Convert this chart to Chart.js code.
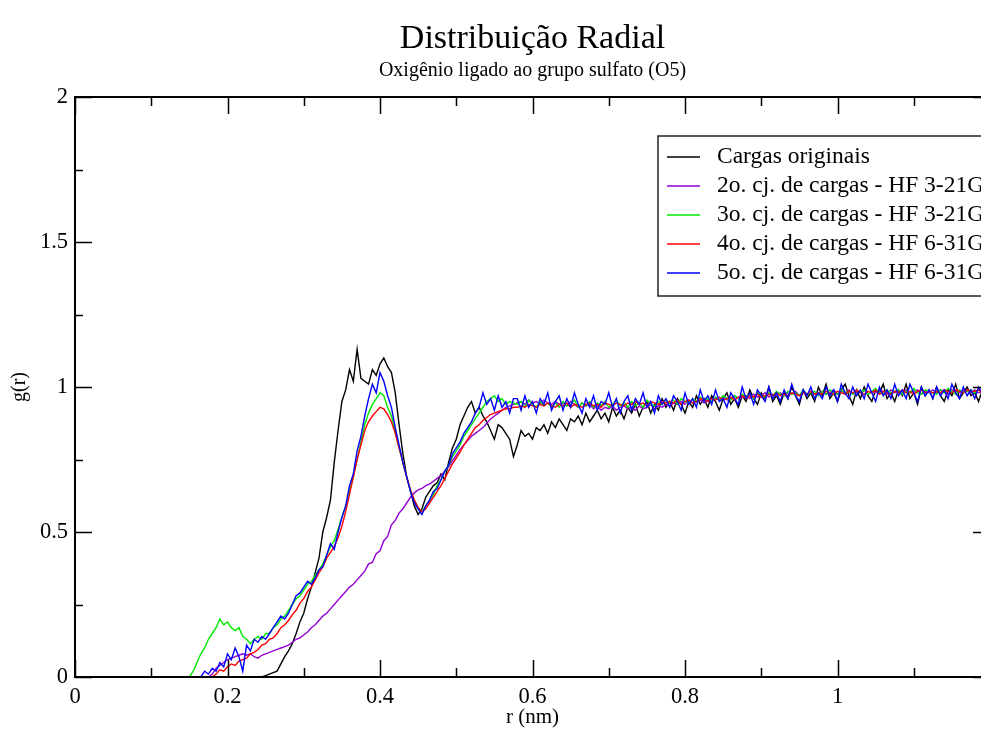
<!DOCTYPE html>
<html lang="pt">
<head>
<meta charset="utf-8">
<title>Distribuição Radial</title>
<script src="https://cdn.jsdelivr.net/npm/chart.js@4.4.1/dist/chart.umd.min.js"></script>
<style>
  html, body { margin: 0; padding: 0; overflow: hidden; background: #fff; }
  #wrap { width: 1000px; height: 731px; }
</style>
</head>
<body>
<div id="wrap"><canvas id="rdf" width="1000" height="731"></canvas></div>
<script>
// g(r) for the sulfate oxygen (O5).
// Every series is sampled every 0.005 nm starting at its own onset radius.
const rStep = 0.005;

const rTickLabels = ['0', '0.2', '0.4', '0.6', '0.8', '1'];
const gTickLabels = ['0', '0.5', '1', '1.5', '2'];

const seriesLabels = [
  'Cargas originais',
  '2o. cj. de cargas - HF 3-21G',
  '3o. cj. de cargas - HF 3-21G',
  '4o. cj. de cargas - HF 6-31G',
  '5o. cj. de cargas - HF 6-31G'
];
const seriesColors = ['#000000', '#9400d3', '#00ea00', '#ff0000', '#0000ff'];

// Cargas originais
const startOriginal = 0.24;
const gOriginal = [
  0, 0, .005, .01, .015, .02, .045, .07, .09, .115,
  .15, .19, .22, .27, .31, .36, .41, .50, .55, .61,
  .74, .85, .95, .99, 1.06, 1.02, 1.13, 1.03, 1.02, 1.01,
  1.06, 1.04, 1.08, 1.10, 1.07, 1.05, .98, .87, .77, .69,
  .64, .59, .56, .58, .62, .64, .66, .67, .70, .68,
  .74, .79, .82, .87, .90, .93, .95, .91, .93, .90,
  .88, .85, .82, .87, .86, .84, .82, .76,
  .80, .85, .83, .84, .82, .86, .85, .87, .84, .88,
  .86, .89, .87, .85, .89, .88, .90, .87, .91, .88,
  .90, .92, .89, .91, .88, .93, .90, .92, .89, .93,
  .91, .94, .90, .93, .95, .91, .94, .92, .96, .93,
  .95, .92, .96, .94, .91, .95, .93, .97, .94, .96,
  .93, .97, .95, .92, .96, .98, .94, .96, .93, .97,
  .95, .99, .96, .94, .98, .96, 1.0, .95, .97, .94,
  .98, .96, 1.0, .97, .94, .99, .96, .98, .95, 1.0,
  .97, 1.01, .96, .98, .95, .99, 1.01, .97, .94, .99,
  .96, 1.0, .97, .95, .99, .98, 1.01, .96, .98, .95,
  .99, .97, 1.01, .96, .98, .94, 1.0, .97, .99, .96,
  1.0, .97, .95, .99, .97, 1.01, .96, .98, 1.0, .97,
  .98, .95, .99, 1.01, .97, .99, .96, .98, 1.0, .97
];

// 2o. conjunto - HF 3-21G
const startSet2 = 0.175;
const gSet2 = [
  0, .01, .03, .04, .05, .06, .065, .07, .075, .08,
  .075, .08, .07, .065, .075, .08, .085, .09, .095, .10,
  .105, .11, .12, .13, .135, .145, .155, .17, .18, .195,
  .21, .22, .235, .25, .265, .28, .295, .31, .32, .335,
  .35, .365, .39, .395, .425, .435, .47, .485, .525, .54,
  .565, .58, .60, .62, .635, .645, .65, .66, .665, .675,
  .685, .695, .71, .725, .745, .765, .785, .80, .815, .83,
  .84, .85, .86, .875, .89, .90, .91, .92, .93, .935, .94,
  .945, .95, .94, .955, .945, .95, .94, .955, .945, .94,
  .95, .94, .945, .935, .95, .94, .93, .945, .935, .94,
  .925, .935, .92, .93, .925, .935, .92, .93, .935, .925,
  .93, .92, .935, .925, .93, .94, .925, .935, .93, .94,
  .935, .945, .94, .95, .94, .955, .945, .95, .955, .945,
  .955, .95, .96, .955, .965, .955, .96, .97, .96, .965,
  .97, .96, .975, .965, .97, .98, .965, .975, .97, .98,
  .97, .98, .975, .985, .97, .98, .975, .985, .975, .98,
  .985, .975, .98, .99, .975, .985, .98, .99, .975, .985,
  .98, .99, .975, .985, .98, .99, .985, .975, .99, .98,
  .985, .975, .99, .98, .985, .99, .975, .985, .98, .99,
  .98, .99, .985, .975, .99, .985, .98, .99, .985, .98,
  .99, .98, .985, .99, .98, .985, .99, .98, .985, .99
];

// 3o. conjunto - HF 3-21G
const startSet3 = 0.15;
const gSet3 = [
  0, .02, .05, .08, .10, .13, .15, .17, .20, .18,
  .19, .17, .16, .17, .14, .13, .115, .13, .14, .13,
  .15, .15, .17, .18, .20, .21, .23, .25, .27, .28,
  .30, .32, .33, .35, .37, .39, .42, .45, .47, .51,
  .55, .59, .64, .69, .75, .81, .87, .91, .94, .96,
  .98, .97, .93, .90, .85, .79, .74, .69, .64, .61,
  .58, .57, .59, .61, .63, .66, .68, .71, .73, .76,
  .78, .80, .83, .85, .87, .89, .91, .93, .95, .96,
  .97, .95, .96, .94, .95, .945,
  .94, .95, .93, .955, .94, .93, .95, .935, .945, .93,
  .945, .93, .95, .935, .94, .955, .93, .945, .935, .95,
  .93, .945, .935, .95, .93, .94, .955, .935, .945, .93,
  .95, .935, .945, .93, .955, .94, .935, .95, .94, .955,
  .945, .955, .94, .96, .95, .945, .96, .95, .965, .955,
  .96, .95, .965, .955, .97, .96, .955, .97, .96, .975,
  .965, .975, .96, .98, .97, .965, .98, .97, .985, .975,
  .97, .985, .975, .98, .97, .99, .975, .98, .985, .97,
  .985, .975, .99, .98, .975, .99, .98, .985, .975, .99,
  .98, .99, .975, .985, .995, .98, .975, .99, .98, .985,
  .99, .975, .985, .98, .995, .98, .975, .99, .985, .98,
  .975, .99, .98, .995, .985, .975, .99, .98, .985, .99,
  .98, .99, .985, .975, .99, .98, .995, .985, .98, .99
];

// 4o. conjunto - HF 6-31G
const startSet4 = 0.18;
const gSet4 = [
  0, .01, .025, .02, .035, .045, .04, .055, .06, .065,
  .08, .085, .095, .11, .115, .13, .135, .15, .17, .18,
  .195, .215, .23, .255, .27, .295, .31, .335, .36, .38,
  .41, .43, .45, .48, .52, .57, .63, .69, .75, .80,
  .85, .88, .90, .915, .93, .925, .905, .88, .84, .79,
  .74, .69, .645, .61, .585, .57, .58, .60, .62, .64,
  .66, .685, .71, .735, .755, .775, .80, .82, .84, .86,
  .87, .885, .895, .905, .91, .915, .92, .925, .925, .93,
  .93, .935, .93, .94, .935, .93, .94, .935, .945, .935,
  .93, .94, .935, .945, .93, .94, .935, .93, .94, .945,
  .935, .94, .93, .945, .94, .935, .945, .94, .935, .945,
  .94, .95, .94, .945, .935, .95, .945, .94, .95, .945,
  .95, .945, .955, .94, .95, .955, .945, .95, .96, .955,
  .95, .96, .955, .965, .955, .96, .965, .955, .965, .97,
  .96, .97, .965, .975, .965, .97, .975, .97, .98, .97,
  .975, .97, .98, .975, .97, .98, .975, .985, .975, .98,
  .975, .985, .98, .975, .985, .98, .975, .985, .98, .99,
  .98, .975, .985, .98, .99, .975, .985, .98, .975, .985,
  .98, .99, .98, .985, .975, .985, .99, .98, .985, .98,
  .985, .98, .99, .985, .98, .99, .985, .98, .99, .985,
  .985, .99, .98, .99, .985, .99, .985, .98, .99, .985
];

// 5o. conjunto - HF 6-31G
const startSet5 = 0.165;
const gSet5 = [
  0, .02, .01, .03, .02, .05, .035, .08, .06, .10,
  .07, .02, .11, .09, .13, .12, .14, .13, .15, .17,
  .19, .21, .20, .22, .25, .28, .29, .31, .33, .32,
  .34, .37, .38, .42, .46, .44, .50, .55, .59, .66,
  .70, .78, .83, .90, .96, 1.01, .98, 1.05, 1.02, .97,
  .93, .86, .80, .74, .69, .64, .60, .58, .56, .59,
  .61, .64, .65, .68, .71, .73, .77, .79, .81, .84,
  .86, .88, .91, .93, .98, .94, .96, .92, .97, .93,
  .95, .91, .96,
  .96, .92, .97, .93, .95, .91, .96, .94, .98, .92,
  .95, .97, .92, .96, .93, .98, .94, .91, .96, .93,
  .97, .92, .95, .94, .98, .93, .96, .91, .95, .97,
  .92, .96, .94, .98, .93, .95, .91, .97, .94, .96,
  .93, .97, .95, .92, .98, .94, .96, .93, .99, .95,
  .97, .94, .99, .95, .96, .93, .98, .96, .94, 1.0,
  .96, .98, .94, .99, .97, .95, 1.0, .96, .98, .95,
  .99, .96, 1.01, .97, .95, .99, .97, 1.0, .96, .98,
  .96, 1.0, .97, .99, .95, 1.01, .98, .96, 1.0, .97,
  .99, .96, 1.01, .98, .95, 1.0, .97, .99, .96, 1.01,
  .97, .99, .96, 1.01, .98, .95, 1.0, .97, .99, .96,
  1.0, .97, .99, .96, 1.01, .98, .96, 1.0, .97, .99,
  .96, 1.0, .98, .97, 1.01, .96, .99, .97, 1.0, .98
];

function toPoints(start, values) {
  return values.map((g, i) => ({ x: start + i * rStep, y: g }));
}

const serif = "'Liberation Serif', 'Times New Roman', serif";

// Closed frame with inward ticks on all four sides, like the original plot
const frameTicks = {
  id: 'frameTicks',
  afterDatasetsDraw(chart) {
    const { ctx, chartArea: a, scales: { x, y } } = chart;
    ctx.save();
    ctx.strokeStyle = '#000';
    ctx.lineWidth = 2;
    ctx.strokeRect(a.left, a.top, a.right - a.left, a.bottom - a.top);
    ctx.lineWidth = 1.5;
    ctx.beginPath();
    for (let i = 0; i <= 12; i++) {
      const px = Math.round(x.getPixelForValue(i / 10)) + 0.5;
      const len = i % 2 === 0 ? 17 : 9;
      ctx.moveTo(px, a.bottom); ctx.lineTo(px, a.bottom - len);
      ctx.moveTo(px, a.top); ctx.lineTo(px, a.top + len);
    }
    for (let i = 0; i <= 8; i++) {
      const py = Math.round(y.getPixelForValue(i / 4)) + 0.5;
      const len = i % 2 === 0 ? 17 : 8;
      ctx.moveTo(a.left, py); ctx.lineTo(a.left + len, py);
      ctx.moveTo(a.right, py); ctx.lineTo(a.right - len, py);
    }
    ctx.stroke();
    ctx.restore();
  }
};

// Title and subtitle centred over the plot frame
const plotTitles = {
  id: 'plotTitles',
  afterDraw(chart) {
    const { ctx, chartArea: a } = chart;
    const cx = (a.left + a.right) / 2;
    ctx.save();
    ctx.fillStyle = '#000';
    ctx.textAlign = 'center';
    ctx.textBaseline = 'middle';
    ctx.font = '34px ' + serif;
    ctx.fillText('Distribuição Radial', cx, 39);
    ctx.font = '20px ' + serif;
    ctx.fillText('Oxigênio ligado ao grupo sulfato (O5)', cx, 71);
    ctx.restore();
  }
};

// Boxed legend in the upper right corner
const boxLegend = {
  id: 'boxLegend',
  afterDraw(chart) {
    const { ctx } = chart;
    const left = 658, top = 136, bottom = 296;
    ctx.save();
    ctx.fillStyle = '#fff';
    ctx.fillRect(left, top, 400, bottom - top);
    ctx.strokeStyle = '#222';
    ctx.lineWidth = 1.5;
    ctx.strokeRect(left, top, 400, bottom - top);
    ctx.font = '23.5px ' + serif;
    ctx.textBaseline = 'middle';
    seriesLabels.forEach((label, i) => {
      const yy = 157 + i * 29;
      ctx.strokeStyle = seriesColors[i];
      ctx.lineWidth = 1.5;
      ctx.beginPath();
      ctx.moveTo(667, yy);
      ctx.lineTo(700, yy);
      ctx.stroke();
      ctx.fillStyle = '#000';
      ctx.fillText(label, 717, yy);
    });
    ctx.restore();
  }
};

const starts = [startOriginal, startSet2, startSet3, startSet4, startSet5];
const values = [gOriginal, gSet2, gSet3, gSet4, gSet5];

new Chart(document.getElementById('rdf'), {
  type: 'line',
  data: {
    datasets: values.map((vals, i) => ({
      label: seriesLabels[i],
      data: toPoints(starts[i], vals),
      borderColor: seriesColors[i],
      borderWidth: 1.4,
      pointRadius: 0,
      fill: false,
      tension: 0,
      // the last set is painted on top, as in the original
      order: values.length - i
    }))
  },
  options: {
    responsive: false,
    animation: false,
    layout: { padding: { top: 97, right: 10, left: 0, bottom: 0 } },
    plugins: {
      legend: { display: false },
      tooltip: { enabled: false }
    },
    scales: {
      x: {
        type: 'linear',
        min: 0,
        max: 1.2,
        afterFit: (scale) => { scale.height = 54; },
        grid: { display: false, drawTicks: false },
        border: { display: false },
        ticks: {
          stepSize: 0.2,
          padding: 7,
          color: '#000',
          font: { family: serif, size: 22.5 },
          maxRotation: 0,
          callback: (v, i) => (i < rTickLabels.length ? rTickLabels[i] : '')
        },
        title: {
          display: true,
          text: 'r (nm)',
          color: '#000',
          font: { family: serif, size: 21 },
          padding: { top: 0, bottom: 1 }
        }
      },
      y: {
        min: 0,
        max: 2,
        afterFit: (scale) => { scale.width = 75; },
        grid: { display: false, drawTicks: false },
        border: { display: false },
        ticks: {
          stepSize: 0.5,
          padding: 7,
          color: '#000',
          font: { family: serif, size: 22.5 },
          callback: (v, i) => gTickLabels[i]
        },
        title: {
          display: true,
          text: 'g(r)',
          color: '#000',
          font: { family: serif, size: 20 },
          padding: { top: 8, bottom: 0 }
        }
      }
    }
  },
  plugins: [frameTicks, plotTitles, boxLegend]
});
</script>
</body>
</html>
